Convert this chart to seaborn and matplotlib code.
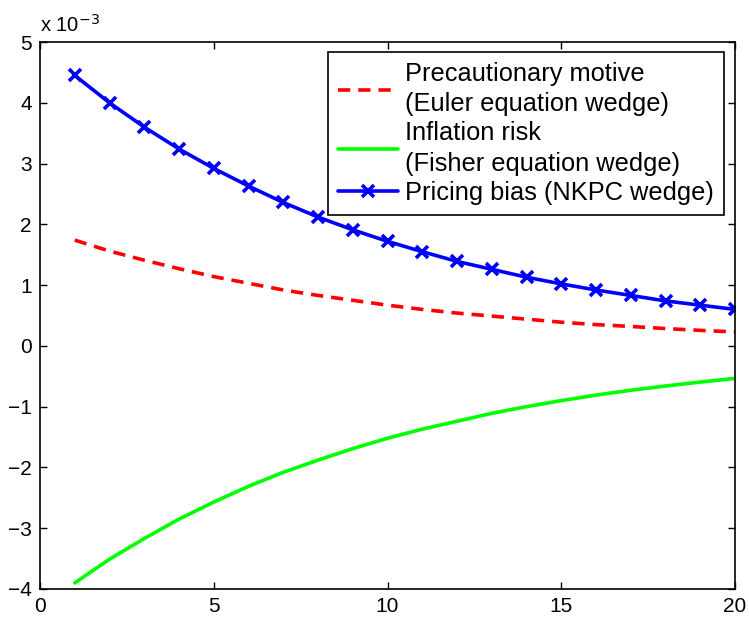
import numpy as np
import pandas as pd
import seaborn as sns
import matplotlib
matplotlib.use("Agg")
import matplotlib.pyplot as plt
from matplotlib.lines import Line2D

# Data (values in units of 1e-3)
horizon = list(range(1, 21))
precautionary = [1.74, 1.56, 1.41, 1.27, 1.14, 1.03, 0.92, 0.83, 0.75, 0.67,
                 0.60, 0.54, 0.49, 0.44, 0.39, 0.35, 0.32, 0.285, 0.255, 0.23]
inflation_risk = [-3.90, -3.51, -3.17, -2.85, -2.57, -2.31, -2.08, -1.88, -1.69, -1.52,
                  -1.37, -1.24, -1.11, -1.00, -0.90, -0.81, -0.73, -0.66, -0.595, -0.535]
pricing_bias = [4.45, 4.00, 3.60, 3.24, 2.92, 2.63, 2.36, 2.12, 1.91, 1.72,
                1.55, 1.39, 1.26, 1.13, 1.02, 0.92, 0.83, 0.74, 0.67, 0.60]
labels = ["Precautionary motive\n(Euler equation wedge)",
          "Inflation risk\n(Fisher equation wedge)",
          "Pricing bias (NKPC wedge)"]
xticks = [0, 5, 10, 15, 20]
yticks = [-4, -3, -2, -1, 0, 1, 2, 3, 4, 5]

sns.set_theme(style="white")
plt.rcParams['font.family'] = ['Liberation Sans', 'DejaVu Sans']
plt.rcParams['axes.unicode_minus'] = True
plt.rcParams['text.color'] = 'black'
plt.rcParams['xtick.color'] = 'black'
plt.rcParams['ytick.color'] = 'black'
plt.rcParams['axes.labelcolor'] = 'black'

fig = plt.figure(figsize=(7.49, 6.18), dpi=100)
ax = fig.add_axes([40/749, 1-589/618, (735-40)/749, (589-42)/618])

df = pd.DataFrame({"h": horizon, "p": precautionary, "i": inflation_risk, "b": pricing_bias})

lw = 2.6
sns.lineplot(data=df, x="h", y="p", ax=ax, color="#ff0000", lw=lw,
             linestyle=(0, (3.4, 2.2)))
sns.lineplot(data=df, x="h", y="i", ax=ax, color="#00ff00", lw=lw)
sns.lineplot(data=df, x="h", y="b", ax=ax, color="#0000ff", lw=lw,
             marker="x", markersize=9, markeredgewidth=2.6, markeredgecolor="#0000ff")

ax.set_xlim(0, 20)
ax.set_ylim(-4, 5)
ax.set_xticks(xticks)
ax.set_yticks(yticks)
ax.set_xlabel("")
ax.set_ylabel("")
ax.tick_params(axis="both", direction="in", length=5, width=1, labelsize=15,
               top=True, right=True, left=True, bottom=True, colors="black",
               labelcolor="black", pad=6)
for s in ax.spines.values():
    s.set_color("black")
    s.set_linewidth(1.2)
    s.set_visible(True)

ax.text(0.0, 1.012, r"x 10$^{-3}$", transform=ax.transAxes, fontsize=14.5,
        ha="left", va="bottom", color="black")

handles = [
    Line2D([], [], color="#ff0000", lw=lw, linestyle=(0, (3.4, 2.2))),
    Line2D([], [], color="#00ff00", lw=lw),
    Line2D([], [], color="#0000ff", lw=lw, marker="x", markersize=9, markeredgewidth=2.6),
]
leg = ax.legend(handles, labels, loc="upper right", bbox_to_anchor=(1 - 11/695, 1 - 10/547),
                fontsize=18.3, frameon=True, fancybox=False, edgecolor="black",
                framealpha=1, borderpad=0.38, labelspacing=0.2, handlelength=2.36,
                handletextpad=0.3, borderaxespad=0.0)
leg.get_frame().set_linewidth(1.2)
for t in leg.get_texts():
    t.set_color("black")
    t.set_linespacing(1.35)

fig.savefig("out.png", dpi=100, facecolor="white")
